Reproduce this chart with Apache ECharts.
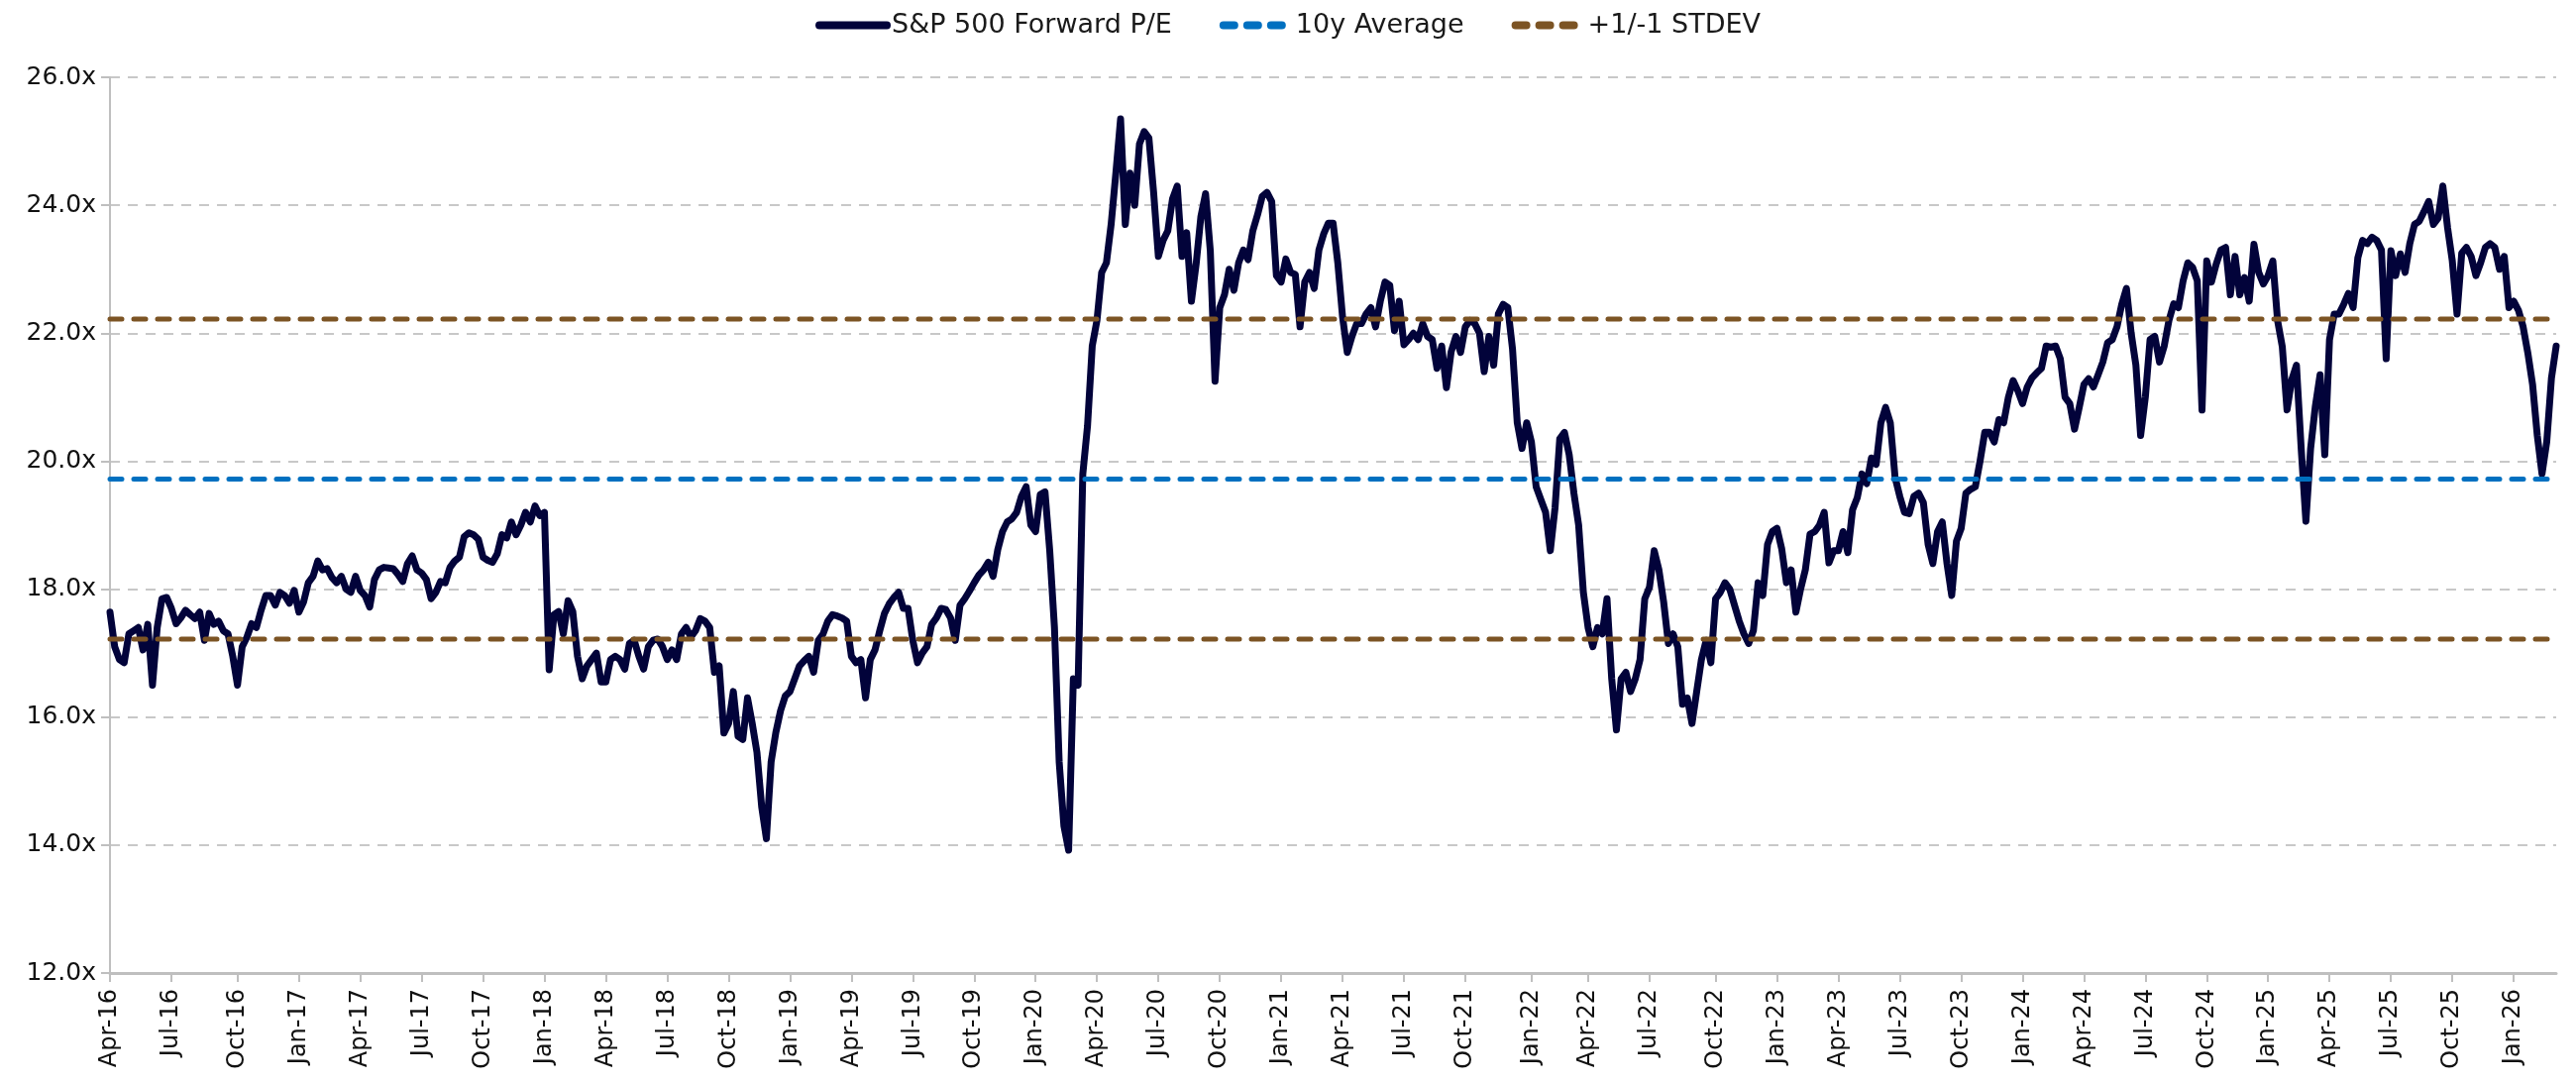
<!DOCTYPE html>
<html>
<head>
<meta charset="utf-8">
<script src="https://cdn.jsdelivr.net/npm/echarts@6/dist/echarts.min.js"></script>
<style>
  html, body { margin: 0; padding: 0; background: #ffffff; }
  #chart { width: 2600px; height: 1094px; }
</style>
</head>
<body>
<div id="chart"></div>
<script>
// Weekly S&P 500 forward P/E readings
const pe2016 = [17.64,17.1,16.9,16.85,17.3,17.35,17.4,17.05,17.45,16.5,17.4,17.85,17.87,17.7,17.46,17.55,17.67,17.6,17.54,17.64,17.2,17.62,17.45,17.5,17.35,17.3,16.95,16.5,17.1,17.25,17.46,17.4,17.67,17.9,17.9,17.75,17.95,17.9,17.78,17.98];
const pe2017 = [17.64,17.8,18.1,18.2,18.44,18.3,18.32,18.18,18.1,18.2,18.0,17.95,18.2,17.98,17.9,17.72,18.15,18.3,18.34,18.33,18.32,18.23,18.12,18.4,18.52,18.3,18.25,18.15,17.85,17.95,18.12,18.1,18.34,18.44,18.5,18.82,18.88,18.85,18.78,18.5,18.45,18.42,18.55,18.85,18.8,19.05,18.85,19.0,19.2,19.05,19.3,19.15];
const pe2018 = [19.2,16.74,17.6,17.65,17.3,17.82,17.65,16.95,16.6,16.8,16.9,17.0,16.55,16.55,16.9,16.95,16.9,16.75,17.15,17.2,16.95,16.75,17.1,17.2,17.22,17.1,16.9,17.05,16.9,17.3,17.4,17.25,17.35,17.54,17.5,17.4,16.7,16.8,15.75,15.9,16.4,15.7,15.65,16.3,15.9,15.45,14.6,14.1,15.3,15.76,16.1,16.33];
const pe2019 = [16.4,16.6,16.8,16.88,16.95,16.7,17.2,17.3,17.5,17.6,17.58,17.55,17.5,16.95,16.85,16.9,16.3,16.9,17.05,17.35,17.62,17.77,17.87,17.95,17.7,17.7,17.2,16.85,17.0,17.1,17.45,17.55,17.7,17.68,17.55,17.2,17.75,17.85,17.97,18.1,18.22,18.3,18.42,18.2,18.62,18.9,19.05,19.1,19.2,19.45,19.6,19.0];
const pe2020 = [18.9,19.48,19.52,18.6,17.4,15.3,14.3,13.92,16.6,16.5,19.8,20.55,21.8,22.2,22.95,23.1,23.7,24.5,25.35,23.7,24.5,24.0,24.96,25.15,25.05,24.2,23.2,23.45,23.6,24.1,24.3,23.2,23.57,22.5,23.08,23.82,24.18,23.29,21.25,22.4,22.6,23.0,22.67,23.1,23.3,23.15,23.6,23.85,24.14,24.2,24.06,22.9];
const pe2021 = [22.8,23.16,22.95,22.92,22.1,22.8,22.95,22.7,23.3,23.55,23.72,23.72,23.1,22.26,21.7,21.95,22.15,22.15,22.3,22.4,22.1,22.5,22.8,22.75,22.04,22.5,21.82,21.9,22.0,21.9,22.15,21.95,21.9,21.45,21.8,21.15,21.71,21.95,21.7,22.1,22.2,22.15,22.0,21.4,21.95,21.5,22.3,22.45,22.4,21.75,20.6,20.2,20.6];
const pe2022 = [20.3,19.6,19.4,19.2,18.6,19.27,20.35,20.45,20.1,19.5,19.0,17.95,17.4,17.1,17.4,17.3,17.85,16.6,15.8,16.6,16.7,16.4,16.6,16.9,17.85,18.03,18.6,18.3,17.8,17.15,17.3,17.1,16.2,16.3,15.9,16.4,16.9,17.2,16.85,17.85,17.95,18.1,18.0,17.75,17.5,17.3,17.15,17.35,18.1,17.9,18.7,18.9];
const pe2023 = [18.95,18.63,18.1,18.3,17.64,18.0,18.3,18.86,18.9,19.0,19.2,18.41,18.6,18.6,18.9,18.57,19.24,19.43,19.8,19.65,20.05,19.95,20.6,20.84,20.6,19.75,19.45,19.2,19.18,19.45,19.5,19.35,18.7,18.4,18.9,19.05,18.4,17.9,18.75,18.95,19.5,19.56,19.6,20.0,20.45,20.45,20.3,20.65,20.6,21.0,21.26,21.1];
const pe2024 = [20.9,21.16,21.3,21.38,21.45,21.8,21.78,21.8,21.6,21.0,20.9,20.5,20.84,21.2,21.29,21.16,21.35,21.55,21.85,21.9,22.1,22.45,22.7,22.0,21.5,20.4,21.0,21.9,21.95,21.55,21.8,22.2,22.46,22.4,22.82,23.1,23.03,22.82,20.8,23.13,22.8,23.08,23.3,23.34,22.6,23.2,22.6,22.87,22.5,23.39,22.95,22.77];
const pe2025 = [22.9,23.13,22.2,21.79,20.8,21.27,21.5,20.2,19.06,20.2,20.86,21.35,20.1,21.9,22.3,22.3,22.45,22.62,22.4,23.18,23.45,23.4,23.5,23.45,23.3,21.6,23.29,22.9,23.24,22.95,23.4,23.7,23.75,23.9,24.06,23.7,23.8,24.3,23.65,23.13,22.3,23.25,23.34,23.2,22.9,23.1,23.34,23.4,23.34,23.0,23.2,22.4];
const pe2026 = [22.5,22.36,22.1,21.69,21.2,20.4,19.8,20.3,21.3,21.8];

const avgValue = 19.72;      // 10y Average
const stdevUpper = 22.22;    // +1 STDEV
const stdevLower = 17.22;    // -1 STDEV

const firstWeek = [2016, 3, 1];   // 1 Apr 2016, weekly observations
const monthNames = ['Jan','Feb','Mar','Apr','May','Jun','Jul','Aug','Sep','Oct','Nov','Dec'];
const yMin = 12, yMax = 26, yStep = 2;
const seriesNames = ['S&P 500 Forward P/E', '10y Average', '+1/-1 STDEV'];

const values = [].concat(pe2016, pe2017, pe2018, pe2019, pe2020, pe2021, pe2022, pe2023, pe2024, pe2025, pe2026);
const dayMs = 86400000;
const startMs = Date.UTC(firstWeek[0], firstWeek[1], firstWeek[2]);
const dates = values.map((_, i) => new Date(startMs + i * 7 * dayMs).toISOString().slice(0, 10));

function isQuarterStart(i) {
  const m = +dates[i].slice(5, 7) - 1;
  if (m % 3 !== 0) return false;
  if (i === 0) return true;
  return dates[i - 1].slice(5, 7) !== dates[i].slice(5, 7);
}
function fmtDate(s) {
  return monthNames[+s.slice(5, 7) - 1] + '-' + s.slice(2, 4);
}

const FONT = 'DejaVu Sans';
const NAVY = '#02033A', BLUE = '#0070C0', BROWN = '#7C5424';
const first = dates[0], last = dates[dates.length - 1];

const chart = echarts.init(document.getElementById('chart'), null, { renderer: 'canvas' });
chart.setOption({
  animation: false,
  backgroundColor: '#ffffff',
  textStyle: { fontFamily: FONT },
  legend: {
    data: [
      { name: seriesNames[0], lineStyle: { color: NAVY, width: 8, type: 'solid', cap: 'round' } },
      { name: seriesNames[1], lineStyle: { color: BLUE, width: 8, type: [11, 13], cap: 'round' } },
      { name: seriesNames[2], lineStyle: { color: BROWN, width: 8, type: [11, 13], cap: 'round' } }
    ],
    top: 7,
    left: 'center',
    itemWidth: 68,
    itemHeight: 30,
    itemGap: 48,
    itemStyle: { opacity: 0 },
    textStyle: { fontSize: 27, color: '#1a1a1a', fontFamily: FONT }
  },
  grid: { left: 111, right: 20, top: 78, bottom: 112, containLabel: false },
  xAxis: {
    type: 'category',
    data: dates,
    boundaryGap: false,
    axisLine: { show: true, lineStyle: { color: '#BFBFBF', width: 3 } },
    axisTick: { show: true, interval: (i) => isQuarterStart(i), length: 9, lineStyle: { color: '#BFBFBF', width: 2 } },
    axisLabel: {
      interval: (i) => isQuarterStart(i),
      rotate: 90,
      formatter: fmtDate,
      fontSize: 24,
      color: '#111111',
      margin: 16,
      fontFamily: FONT
    },
    splitLine: { show: false }
  },
  yAxis: {
    type: 'value',
    min: yMin,
    max: yMax,
    interval: yStep,
    axisLine: { show: true, lineStyle: { color: '#BFBFBF', width: 2 } },
    axisTick: { show: true, length: 9, lineStyle: { color: '#BFBFBF', width: 2 } },
    axisLabel: {
      formatter: (v) => v.toFixed(1) + 'x',
      fontSize: 25,
      color: '#111111',
      margin: 14,
      fontFamily: FONT
    },
    splitLine: { show: true, lineStyle: { color: '#C8C8C8', width: 2, type: [10, 8] } }
  },
  series: [
    {
      name: seriesNames[0],
      type: 'line',
      data: values,
      symbol: 'none',
      showSymbol: false,
      lineStyle: { color: NAVY, width: 7, join: 'round', cap: 'round' },
      itemStyle: { color: NAVY },
      z: 2
    },
    {
      name: seriesNames[1],
      type: 'line',
      data: [[first, avgValue], [last, avgValue]],
      symbol: 'none',
      lineStyle: { color: BLUE, width: 5, type: [12, 12], cap: 'round' },
      itemStyle: { color: BLUE },
      z: 3
    },
    {
      name: seriesNames[2],
      type: 'line',
      data: [[first, stdevUpper], [last, stdevUpper]],
      symbol: 'none',
      lineStyle: { color: BROWN, width: 5, type: [12, 12], cap: 'round' },
      itemStyle: { color: BROWN },
      z: 3
    },
    {
      name: seriesNames[2],
      type: 'line',
      data: [[first, stdevLower], [last, stdevLower]],
      symbol: 'none',
      lineStyle: { color: BROWN, width: 5, type: [12, 12], cap: 'round' },
      itemStyle: { color: BROWN },
      z: 3
    }
  ]
});
</script>
</body>
</html>
